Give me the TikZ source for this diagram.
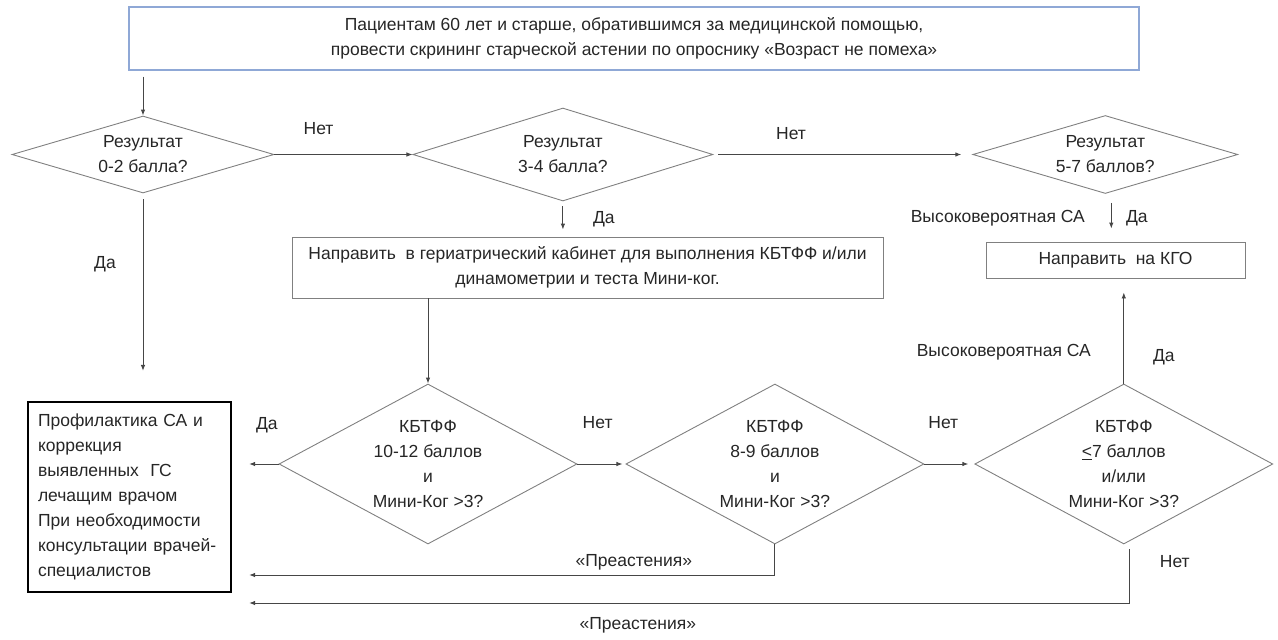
\documentclass[tikz,border=0pt]{standalone}
\usepackage{fontspec}
\setmainfont{Liberation Sans}
\usetikzlibrary{positioning,shapes.geometric,arrows.meta}

\definecolor{framegray}{RGB}{128,128,128}
\definecolor{linegray}{RGB}{70,70,70}
\definecolor{topblue}{RGB}{143,168,214}

\begin{document}
\begin{tikzpicture}[x=1pt, y=1pt,
    every node/.style = {font=\fontsize{17.5}{25}\selectfont, text=black!85, inner sep=0pt},
    decision/.style = {shape=diamond, draw=framegray, line width=0.9pt, align=center},
    action/.style = {shape=rectangle, draw=framegray, line width=0.9pt, align=center},
    arr/.style = {draw=linegray, line width=0.9pt, -{Latex[length=6pt,width=4.5pt]}}]
  \useasboundingbox (0,0) rectangle (1278,-640);

  \node (start) [action, draw=topblue, line width=1.3pt,
    minimum width=1010pt, minimum height=63pt] at (634,-38.5)
    {Пациентам 60 лет и старше, обратившимся за медицинской помощью,\\
     провести скрининг старческой астении по опроснику «Возраст не помеха»};

  \node (d1) [decision, aspect=3.4, minimum width=262pt, minimum height=77pt]
    at (143,-154.5) {Результат\\0-2 балла?};
  \node (d2) [decision, aspect=3.2, minimum width=300pt, minimum height=93pt,
    right=138pt of d1] {Результат\\3-4 балла?};
  \node (d3) [decision, aspect=3.4, minimum width=265pt, minimum height=78pt,
    right=259pt of d2] {Результат\\5-7 баллов?};

  \node (ger) [action, minimum width=591pt, minimum height=61pt] at (587.5,-267.5)
    {Направить\ \ в гериатрический кабинет для выполнения КБТФФ и/или\\
     динамометрии и теста Мини-ког.};
  \node (kgo) [action, minimum width=259pt, minimum height=36pt] at (1115.5,-260)
    {Направить\ \ на КГО};

  \node (care) [action, draw=black, line width=2.2pt, minimum width=203pt,
    minimum height=190pt, text width=183pt, align=left] at (129.5,-497)
    {Профилактика СА и\\коррекция\\выявленных\ \ ГС\\лечащим врачом\\
     При необходимости\\консультации врачей-\\специалистов};

  \node (d4) [decision, aspect=1.86, minimum width=298pt, minimum height=160pt]
    at (428,-464) {КБТФФ\\10-12 баллов\\и\\Мини-Ког >3?};
  \node (d5) [decision, aspect=1.86, minimum width=298pt, minimum height=160pt,
    right=48pt of d4] {КБТФФ\\8-9 баллов\\и\\Мини-Ког >3?};
  \node (d6) [decision, aspect=1.86, minimum width=298pt, minimum height=160pt,
    right=50pt of d5] {КБТФФ\\\underline{<}7 баллов\\и/или\\Мини-Ког >3?};

  % screening branch
  \draw[arr, shorten <=6pt] (d1.north |- start.south) -- (d1.north);
  \draw[arr] (d1.east) -- node[pos=.32, yshift=26pt] {Нет} (d2.west);
  \draw[arr, shorten <=5pt, shorten >=11pt] (d2.east)
    -- node[pos=.3, yshift=21pt] {Нет} (d3.west);
  \draw[arr, shorten <=5pt, shorten >=7pt] (d2.south)
    -- node[xshift=41pt] {Да} (d2.south |- ger.north);
  \draw[arr, shorten <=9pt, shorten >=13pt] ([xshift=6pt]d3.south)
    -- node[xshift=25.5pt] {Да} node[xshift=-113.5pt] {Высоковероятная СА}
    ([xshift=6pt]d3.south |- kgo.north);
  \draw[arr, shorten <=6pt, shorten >=30pt] (d1.south)
    -- node[pos=.34, xshift=-38pt] {Да} (d1.south |- care.north);

  % assessment branch
  \draw[arr] (ger.south -| d4.north) -- (d4.north);
  \draw[arr, shorten >=17pt] (d4.west)
    -- node[pos=.25, yshift=39pt] {Да} (d4.west -| care.east);
  \draw[arr, shorten >=3pt] (d4.east) -- node[pos=.42, yshift=41pt] {Нет} (d5.west);
  \draw[arr, shorten >=6pt] (d5.east) -- node[pos=.38, yshift=41pt] {Нет} (d6.west);
  \draw[arr, shorten >=14pt] (d6.north)
    -- node[pos=.25, xshift=40pt] {Да}
       node[pos=.3, xshift=-120pt] {Высоковероятная СА} (d6.north |- kgo.south);
  \draw[arr, shorten >=17pt] (d5.south)
    |- node[pos=.63, yshift=13pt] {«Преастения»} ([yshift=-78pt]care.east);
  \draw[arr, shorten <=5pt, shorten >=17pt] ([xshift=6pt]d6.south)
    |- node[pos=.145, xshift=45pt] {Нет}
       node[pos=.774, yshift=-22pt] {«Преастения»} ([yshift=-106pt]care.east);
\end{tikzpicture}
\end{document}
